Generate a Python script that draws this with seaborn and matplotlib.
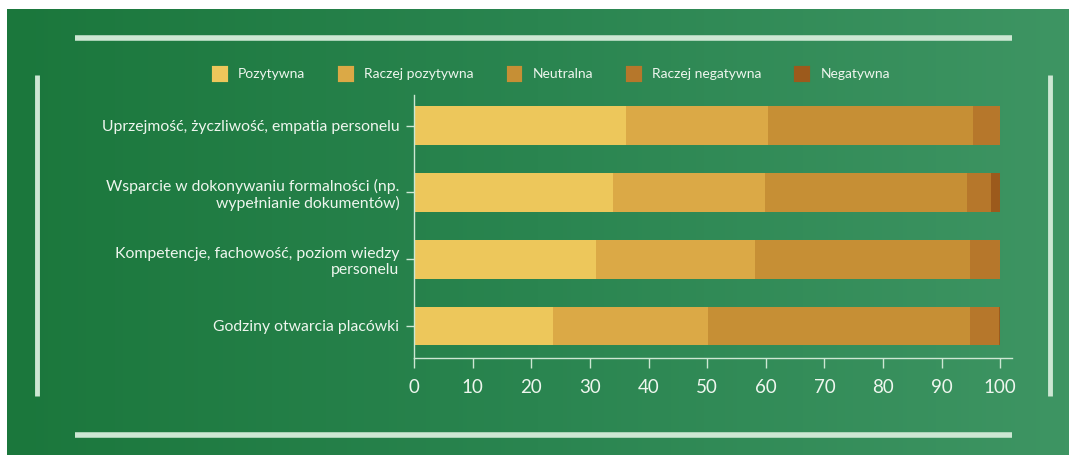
import numpy as np
import pandas as pd
import matplotlib
matplotlib.use("Agg")
import matplotlib.pyplot as plt
import seaborn as sns
from matplotlib.patches import Patch

# data (percent of answers)
categories = [
    "Uprzejmość, życzliwość, empatia personelu",
    "Wsparcie w dokonywaniu formalności (np.\nwypełnianie dokumentów)",
    "Kompetencje, fachowość, poziom wiedzy\npersonelu",
    "Godziny otwarcia placówki",
]
series = ["Pozytywna", "Raczej pozytywna", "Neutralna", "Raczej negatywna", "Negatywna"]
pozytywna = [36.1, 33.9, 31.1, 23.7]
raczej_pozytywna = [24.3, 26.0, 27.1, 26.5]
neutralna = [34.9, 34.4, 36.6, 44.6]
raczej_negatywna = [4.7, 4.1, 5.2, 4.9]
negatywna = [0.0, 1.6, 0.0, 0.3]
ticks = [0, 10, 20, 30, 40, 50, 60, 70, 80, 90, 100]

colors = ["#EDC75B", "#DBA946", "#C68F35", "#B6772B", "#9C5A1C"]
text_col = "#EEF6EE"
line_col = "#CDE7D3"

sns.set_theme(style="white")
plt.rcParams["font.family"] = ["Lato", "DejaVu Sans"]

df = pd.DataFrame({
    "kategoria": categories,
    "Pozytywna": pozytywna,
    "Raczej pozytywna": raczej_pozytywna,
    "Neutralna": neutralna,
    "Raczej negatywna": raczej_negatywna,
    "Negatywna": negatywna,
})

fig = plt.figure(figsize=(10.69, 4.55), dpi=100)
fig.patch.set_facecolor("white")

# green gradient background
bg = fig.add_axes([0, 0, 1, 1], zorder=-5)
grad = np.linspace(0, 1, 256)[None, :]
cmap = matplotlib.colors.LinearSegmentedColormap.from_list("g", ["#1B773C", "#2A8550", "#3E9563"])
bg.imshow(grad, aspect="auto", cmap=cmap, extent=(7, 1069, 455, 9))
bg.set_xlim(0, 1069)
bg.set_ylim(455, 0)
bg.axis("off")
# decorative frame lines
bg.plot([75, 1012], [38, 38], color=line_col, lw=4, solid_capstyle="butt")
bg.plot([75, 1012], [435, 435], color=line_col, lw=4, solid_capstyle="butt")
bg.plot([37, 37], [75, 396], color=line_col, lw=3.5, solid_capstyle="butt")
bg.plot([1050, 1050], [75, 396], color=line_col, lw=3.5, solid_capstyle="butt")

ax = fig.add_axes([414 / 1069, 97 / 455, 598 / 1069, 263 / 455])
ax.set_facecolor("none")

left = np.zeros(len(categories))
for name, col in zip(series, colors):
    sns.barplot(data=df, y="kategoria", x=name, left=left, color=col, orient="h",
                width=0.58, ax=ax, linewidth=0, saturation=1)
    left = left + df[name].values

ax.set_xlim(0, 102)
ax.set_ylim(3.48, -0.46)
ax.set_xticks(ticks)
ax.set_xlabel("")
ax.set_ylabel("")
for s in ["top", "right"]:
    ax.spines[s].set_visible(False)
for s in ["left", "bottom"]:
    ax.spines[s].set_color(line_col)
    ax.spines[s].set_linewidth(1.0)
ax.tick_params(axis="x", colors=line_col, labelcolor=text_col, labelsize=13.5,
               length=7, width=1, direction="out", pad=8, bottom=True)
ax.tick_params(axis="y", colors=line_col, labelcolor=text_col, labelsize=11.3,
               length=6, width=1, direction="out", pad=4.5, left=True)

# rounded legend swatches: thick edge with round joins
handles = [Patch(facecolor=c, edgecolor=c, linewidth=3, joinstyle="round", label=n)
           for c, n in zip(colors, series)]
fig.legend(handles=handles, loc="center", bbox_to_anchor=(552 / 1069, 1 - 74 / 455),
           ncol=5, frameon=False, fontsize=10, labelcolor=text_col,
           handlelength=0.85, handleheight=0.95, handletextpad=0.9, columnspacing=2.5)

fig.savefig("out.png", dpi=100)
